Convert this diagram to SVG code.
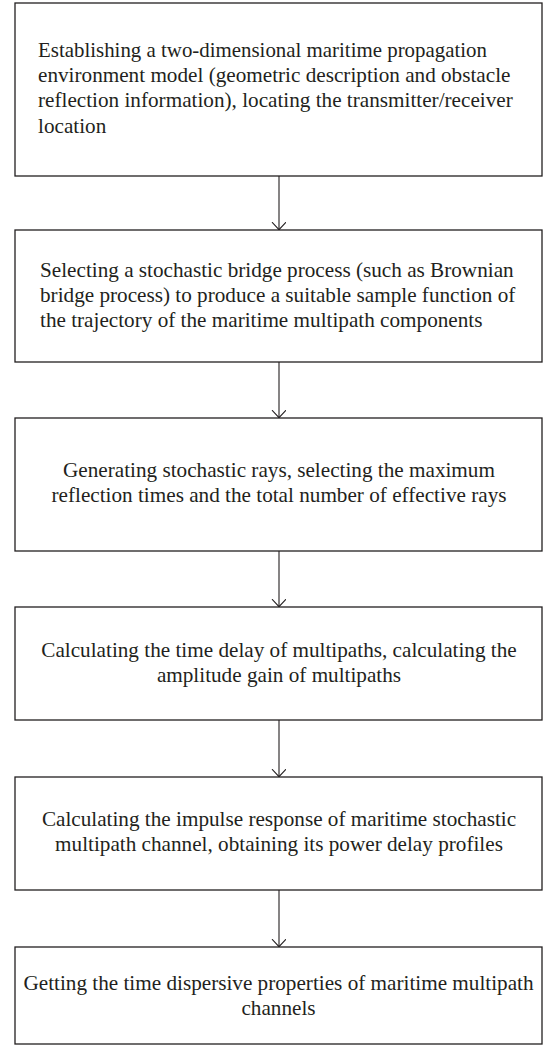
<svg xmlns="http://www.w3.org/2000/svg" width="547" height="1047" viewBox="0 0 547 1047">
  <style>
    .box { fill: #ffffff; stroke: #231f20; stroke-width: 1.3; }
    .t { font-family: "Liberation Serif", "Times New Roman", serif; font-size: 21.2px; fill: #231f20; }
    .c { text-anchor: middle; }
    .edge { stroke: #231f20; stroke-width: 1.1; fill: none; }
  </style>
  <defs>
    <marker id="arr" markerUnits="userSpaceOnUse" viewBox="0 0 10 16" markerWidth="10" markerHeight="16" refX="8.3" refY="7" orient="auto">
      <path d="M0.5,0 L8,7 L0.5,14" fill="none" stroke="#231f20" stroke-width="1.1"/>
    </marker>
  </defs>
  <rect width="547" height="1047" fill="#ffffff"/>

  <g id="connectors">
    <line class="edge" x1="279" y1="176" x2="279" y2="230" marker-end="url(#arr)"/>
    <line class="edge" x1="279" y1="362" x2="279" y2="418" marker-end="url(#arr)"/>
    <line class="edge" x1="279" y1="551" x2="279" y2="607" marker-end="url(#arr)"/>
    <line class="edge" x1="279" y1="720" x2="279" y2="777" marker-end="url(#arr)"/>
    <line class="edge" x1="279" y1="890" x2="279" y2="947" marker-end="url(#arr)"/>
  </g>

  <g id="node1">
    <rect class="box" x="15" y="3" width="527" height="173"/>
    <text class="t" x="38" y="57" textLength="449" lengthAdjust="spacingAndGlyphs">Establishing a two-dimensional maritime propagation</text>
    <text class="t" x="38" y="82.2">environment model (geometric description and obstacle</text>
    <text class="t" x="38" y="107.4">reflection information), locating the transmitter/receiver</text>
    <text class="t" x="38" y="132.6">location</text>
  </g>

  <g id="node2">
    <rect class="box" x="15" y="230" width="527" height="132"/>
    <text class="t" x="40" y="276.5">Selecting a stochastic bridge process (such as Brownian</text>
    <text class="t" x="40" y="301.7">bridge process) to produce a suitable sample function of</text>
    <text class="t" x="40" y="326.9">the trajectory of the maritime multipath components</text>
  </g>

  <g id="node3">
    <rect class="box" x="15" y="418" width="527" height="133"/>
    <text class="t c" x="279" y="477">Generating stochastic rays, selecting the maximum</text>
    <text class="t c" x="279" y="502.2">reflection times and the total number of effective rays</text>
  </g>

  <g id="node4">
    <rect class="box" x="15" y="607" width="527" height="113"/>
    <text class="t c" x="279" y="656.5">Calculating the time delay of multipaths, calculating the</text>
    <text class="t c" x="279" y="681.7">amplitude gain of multipaths</text>
  </g>

  <g id="node5">
    <rect class="box" x="15" y="777" width="527" height="113"/>
    <text class="t c" x="279" y="826">Calculating the impulse response of maritime stochastic</text>
    <text class="t c" x="279" y="851">multipath channel, obtaining its power delay profiles</text>
  </g>

  <g id="node6">
    <rect class="box" x="15" y="947" width="527" height="97"/>
    <text class="t c" x="278.5" y="990">Getting the time dispersive properties of maritime multipath</text>
    <text class="t c" x="278.5" y="1015">channels</text>
  </g>
</svg>
